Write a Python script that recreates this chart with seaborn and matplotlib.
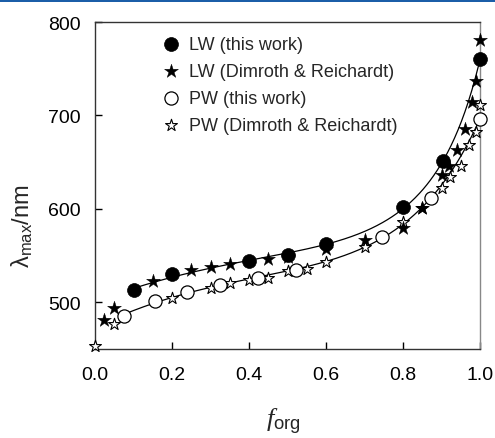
import numpy as np
import pandas as pd
import matplotlib
matplotlib.use("Agg")
import matplotlib.pyplot as plt
import seaborn as sns

# ---- data ----
lw_x = [0.10, 0.20, 0.40, 0.50, 0.60, 0.80, 0.905, 1.00]
lw_y = [513, 530, 544.5, 551, 562, 602, 651, 760]

lwd_x = [0.024, 0.05, 0.15, 0.25, 0.30, 0.35, 0.45, 0.50, 0.60, 0.70, 0.80, 0.85,
         0.90, 0.92, 0.94, 0.96, 0.978, 0.99, 1.00]
lwd_y = [481, 494, 523, 535, 537.5, 541.5, 546, 549, 557, 567, 580, 601,
         636, 646, 663, 685, 714, 737, 781]

pw_x = [0.076, 0.155, 0.24, 0.325, 0.424, 0.522, 0.746, 0.873, 1.00]
pw_y = [485.5, 501.5, 510.5, 518.5, 525.7, 534.6, 570, 611.5, 696.5]

pwd_x = [0.00, 0.05, 0.20, 0.30, 0.35, 0.40, 0.45, 0.50, 0.55, 0.60, 0.70, 0.80,
         0.85, 0.90, 0.922, 0.95, 0.972, 0.99, 1.00]
pwd_y = [453, 476.5, 505, 515.5, 520.5, 524, 526, 533, 536, 543, 559.5, 586,
         601, 622, 634, 645.5, 668.5, 682.5, 711]

labels = ["LW (this work)", "LW (Dimroth & Reichardt)",
          "PW (this work)", "PW (Dimroth & Reichardt)"]
x_ticks = [0.0, 0.2, 0.4, 0.6, 0.8, 1.0]
y_ticks = [500, 600, 700, 800]


def fit_curve(xs, ys):
    xs = np.asarray(xs, float)
    ys = np.asarray(ys, float)
    best = None
    for c in np.linspace(1.02, 1.6, 117):
        A = np.column_stack([np.ones_like(xs), xs, xs**2, 1.0 / (c - xs)])
        coef, res, *_ = np.linalg.lstsq(A, ys, rcond=None)
        r = np.sum((A @ coef - ys) ** 2)
        if best is None or r < best[0]:
            best = (r, c, coef)
    _, c, coef = best
    xf = np.linspace(xs.min(), xs.max(), 300)
    A = np.column_stack([np.ones_like(xf), xf, xf**2, 1.0 / (c - xf)])
    return xf, A @ coef


sns.set_style("ticks")
plt.rcParams["font.family"] = ["Liberation Sans", "DejaVu Sans"]
plt.rcParams["mathtext.fontset"] = "custom"
plt.rcParams["mathtext.rm"] = "Liberation Sans"
plt.rcParams["mathtext.it"] = "Liberation Serif:italic"

fig = plt.figure(figsize=(4.95, 4.39), dpi=100)
ax = fig.add_axes([95 / 495, 89 / 439, 385 / 495, 327 / 439])

# fitted curves
for xs, ys in [(lw_x, lw_y), (pw_x, pw_y)]:
    xf, yf = fit_curve(xs, ys)
    sns.lineplot(x=xf, y=yf, ax=ax, color="black", linewidth=0.9, zorder=2,
                 legend=False, estimator=None, sort=False)

# markers
sns.scatterplot(x=pwd_x, y=pwd_y, ax=ax, marker="*", s=80, facecolor="white",
                edgecolor="black", linewidth=0.8, zorder=3, label=labels[3],
                clip_on=False)
sns.scatterplot(x=pw_x, y=pw_y, ax=ax, marker="o", s=90, facecolor="white",
                edgecolor="black", linewidth=0.9, zorder=4, label=labels[2],
                clip_on=False)
sns.scatterplot(x=lwd_x, y=lwd_y, ax=ax, marker="*", s=110, facecolor="black",
                edgecolor="black", linewidth=0.3, zorder=5, label=labels[1],
                clip_on=False)
sns.scatterplot(x=lw_x, y=lw_y, ax=ax, marker="o", s=100, facecolor="black",
                edgecolor="black", linewidth=0.5, zorder=6, label=labels[0],
                clip_on=False)

ax.set_xlim(0.0, 1.0)
ax.set_ylim(450, 800)
ax.set_xticks(x_ticks)
ax.set_xticklabels([f"{t:.1f}" for t in x_ticks])
ax.set_yticks(y_ticks)
ax.tick_params(direction="in", length=5, width=1, labelsize=14,
               colors="black")
ax.tick_params(axis="x", pad=12)
ax.tick_params(axis="y", pad=10)
for sp in ax.spines.values():
    sp.set_visible(True)
    sp.set_linewidth(1.0)
    sp.set_color("#333333")
    sp.set_zorder(1)
ax.spines["right"].set_color("#888888")

ax.set_xlabel(r"$f_{\mathrm{org}}$", fontsize=19)
ax.xaxis.set_label_coords(0.49, -0.174)
ax.set_ylabel(r"$\mathrm{λ_{max}/nm}$", fontsize=17)
ax.yaxis.set_label_coords(-0.155, 0.38)

handles, labs = ax.get_legend_handles_labels()
order = [labs.index(l) for l in labels]
leg = ax.legend([handles[i] for i in order], [labs[i] for i in order],
                loc="upper left", bbox_to_anchor=(0.14, 0.99), frameon=False,
                fontsize=13, handletextpad=0.4, labelspacing=0.55,
                borderaxespad=0.2, handlelength=1.2)

# top blue rule
fig.add_artist(plt.Rectangle((0, 1 - 3 / 439), 1, 3 / 439, transform=fig.transFigure,
                             color="#1b5ea8", linewidth=0))

fig.savefig("out.png", dpi=100)
